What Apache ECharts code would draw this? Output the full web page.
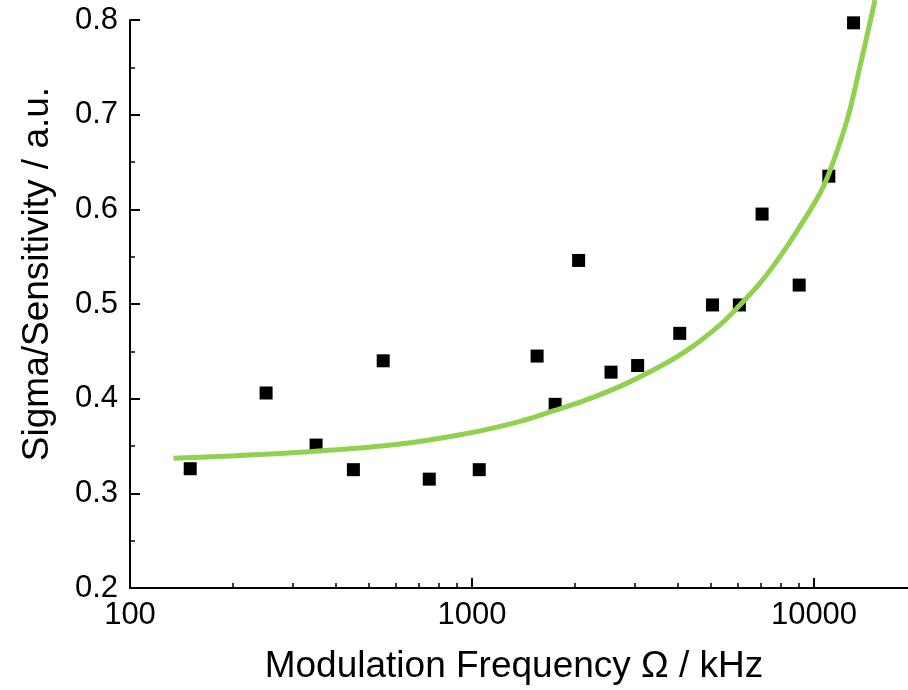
<!DOCTYPE html>
<html>
<head>
<meta charset="utf-8">
<script src="https://cdn.jsdelivr.net/npm/echarts@6/dist/echarts.min.js"></script>
<style>
html, body { margin: 0; padding: 0; background: #fff; }
#chart { width: 908px; height: 690px; }
</style>
</head>
<body>
<div id="chart"></div>
<script>
// measured points
var freq = [150, 250, 350, 450, 550, 750, 1050, 1550, 1750, 2050, 2550, 3050, 4050, 5050, 6050, 7050, 9050, 11050, 13050];
var sigma = [0.326, 0.406, 0.351, 0.325, 0.440, 0.315, 0.325, 0.445, 0.394, 0.546, 0.428, 0.435, 0.469, 0.499, 0.499, 0.595, 0.520, 0.635, 0.797];

// fit curve
var fitFreq = [134, 336, 616, 993, 1382, 1726, 2169, 2709, 3382, 4253, 5311, 6075, 6953, 7955, 9102, 10412, 11137, 12489, 13633, 15080];
var fitSigma = [0.337, 0.344, 0.352, 0.364, 0.376, 0.387, 0.399, 0.413, 0.430, 0.451, 0.478, 0.499, 0.522, 0.550, 0.582, 0.617, 0.641, 0.694, 0.751, 0.821];

var majorTicks = [100, 1000, 10000];
var minorTicks = [200, 300, 400, 500, 600, 700, 800, 900, 2000, 3000, 4000, 5000, 6000, 7000, 8000, 9000];

var font = '"Liberation Sans", Arial, sans-serif';

var myChart = echarts.init(document.getElementById('chart'));

var pts = freq.map(function(f, i) { return [f, sigma[i]]; });
var fit = fitFreq.map(function(f, i) { return [f, fitSigma[i]]; });

var option = {
	animation: false,
	backgroundColor: '#fff',
	grid: { left: 130, right: 0, top: 20, bottom: 102 },
	xAxis: [{
		type: 'log',
		logBase: 10,
		min: 100,
		max: 18830,
		name: 'Modulation Frequency \u03A9 / kHz',
		nameLocation: 'middle',
		nameGap: 60,
		nameTextStyle: { fontFamily: font, fontSize: 37, color: '#000', padding: [0, 10, 0, 0] },
		axisLine: { lineStyle: { color: '#000', width: 2 } },
		axisTick: { inside: true, length: 10, customValues: majorTicks, lineStyle: { color: '#000', width: 2 } },
		axisLabel: {
			customValues: majorTicks,
			fontFamily: font, fontSize: 31, color: '#000', margin: 12,
			formatter: function(v) { return String(Math.round(v)); }
		},
		splitLine: { show: false }
	}, {
		type: 'log',
		logBase: 10,
		min: 100,
		max: 18830,
		position: 'bottom',
		axisLine: { show: false },
		axisTick: { inside: true, length: 5, customValues: minorTicks, lineStyle: { color: '#000', width: 1.5 } },
		axisLabel: { show: false },
		splitLine: { show: false }
	}],
	yAxis: {
		type: 'value',
		min: 0.2,
		max: 0.8,
		interval: 0.1,
		name: 'Sigma/Sensitivity / a.u.',
		nameLocation: 'middle',
		nameGap: 74,
		nameTextStyle: { fontFamily: font, fontSize: 37, color: '#000', padding: [0, 0, 0, 60] },
		axisLine: { show: true, lineStyle: { color: '#000', width: 2 } },
		axisTick: { show: true, inside: true, length: 10, lineStyle: { color: '#000', width: 2 } },
		minorTick: { show: true, splitNumber: 2, length: 5, lineStyle: { color: '#000', width: 1.5 } },
		axisLabel: {
			fontFamily: font, fontSize: 31, color: '#000', margin: 12,
			formatter: function(v) { return v.toFixed(1); }
		},
		splitLine: { show: false }
	},
	series: [{
		name: 'data',
		type: 'scatter',
		data: pts,
		symbol: 'rect',
		symbolSize: 13,
		itemStyle: { color: '#000', opacity: 1 },
		z: 2
	}, {
		name: 'fit',
		type: 'line',
		data: fit,
		symbol: 'none',
		smooth: 0.4,
		clip: false,
		lineStyle: { color: '#92d050', width: 5 },
		z: 3
	}]
};
myChart.setOption(option);
</script>
</body>
</html>
